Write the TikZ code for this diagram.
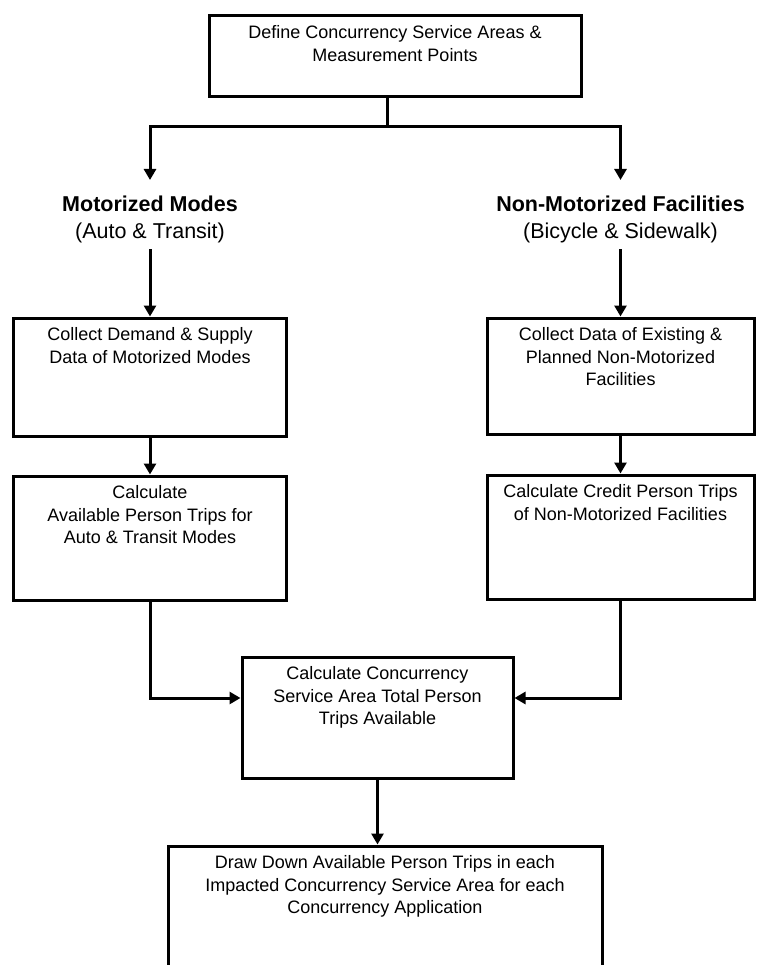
\documentclass[tikz,border=0pt]{standalone}
\usepackage{fontspec}
\setmainfont{Liberation Sans}
\usetikzlibrary{positioning,calc,arrows.meta}

\begin{document}
\begin{tikzpicture}[x=1pt,y=-1pt,
    box/.style={draw,line width=3pt,inner sep=0pt},
    txt/.style={align=center,inner sep=0pt,font=\fontsize{18}{22.5}\selectfont},
    head/.style={align=center,inner xsep=0pt,inner ysep=6pt,font=\fontsize{21.5}{27}\selectfont},
    line/.style={line width=3pt},
    arr/.style={line width=3pt,-{Triangle[length=11pt,width=12pt]}}]
  \clip (0,0) rectangle (756,965);
  % boxes
  \node[box,minimum width=372pt,minimum height=81pt] (define) at (395,56.5) {};
  \node[txt,below=11pt of define.north] (define-t) {Define Concurrency Service Areas \&\\Measurement Points};
  \node[head,anchor=north] (motor) at (150,190) {\textbf{Motorized Modes}\\(Auto \& Transit)};
  \node[head,anchor=north] (nonmotor) at (620.5,190) {\textbf{Non-Motorized Facilities}\\(Bicycle \& Sidewalk)};
  \node[box,minimum width=273pt,minimum height=118pt] (colL) at (150,377) {};
  \node[txt,below=11pt of colL.north] (colL-t) {Collect Demand \& Supply\\Data of Motorized Modes};
  \node[box,minimum width=273pt,minimum height=124pt] (calcL) at (150,538) {};
  \node[txt,below=11pt of calcL.north] (calcL-t) {Calculate\\Available Person Trips for\\Auto \& Transit Modes};
  \node[box,minimum width=267pt,minimum height=116pt] (colR) at (620.5,376) {};
  \node[txt,below=11pt of colR.north] (colR-t) {Collect Data of Existing \&\\Planned Non-Motorized\\Facilities};
  \node[box,minimum width=267pt,minimum height=124pt] (calcR) at (620.5,537) {};
  \node[txt,below=11pt of calcR.north] (calcR-t) {Calculate Credit Person Trips\\of Non-Motorized Facilities};
  \node[box,minimum width=271pt,minimum height=121pt] (total) at (377.5,717.5) {};
  \node[txt,below=11pt of total.north] (total-t) {Calculate Concurrency\\Service Area Total Person\\Trips Available};
  \node[box,minimum width=434pt,minimum height=124pt] (drawdown) at (385,908) {};
  \node[txt,below=11pt of drawdown.north] (drawdown-t) {Draw Down Available Person Trips in each\\Impacted Concurrency Service Area for each\\Concurrency Application};
  % connectors
  \coordinate (bar) at (387,127);
  \draw[line] (define.south -| bar) -- (bar);
  \draw[arr,shorten >=10pt] (bar) -| (motor.north);
  \draw[arr,shorten >=10pt] (bar) -| (nonmotor.north);
  \draw[arr] (motor.south) -- (motor.south |- colL.north);
  \draw[arr] (nonmotor.south) -- (nonmotor.south |- colR.north);
  \draw[arr] (colL) -- (calcL);
  \draw[arr] (colR) -- (calcR);
  \draw[arr] (calcL.south) |- ([yshift=19.5pt]total.west);
  \draw[arr] (calcR.south) |- ([yshift=19.5pt]total.east);
  \draw[arr] (total.south) -- (total.south |- drawdown.north);
\end{tikzpicture}
\end{document}
